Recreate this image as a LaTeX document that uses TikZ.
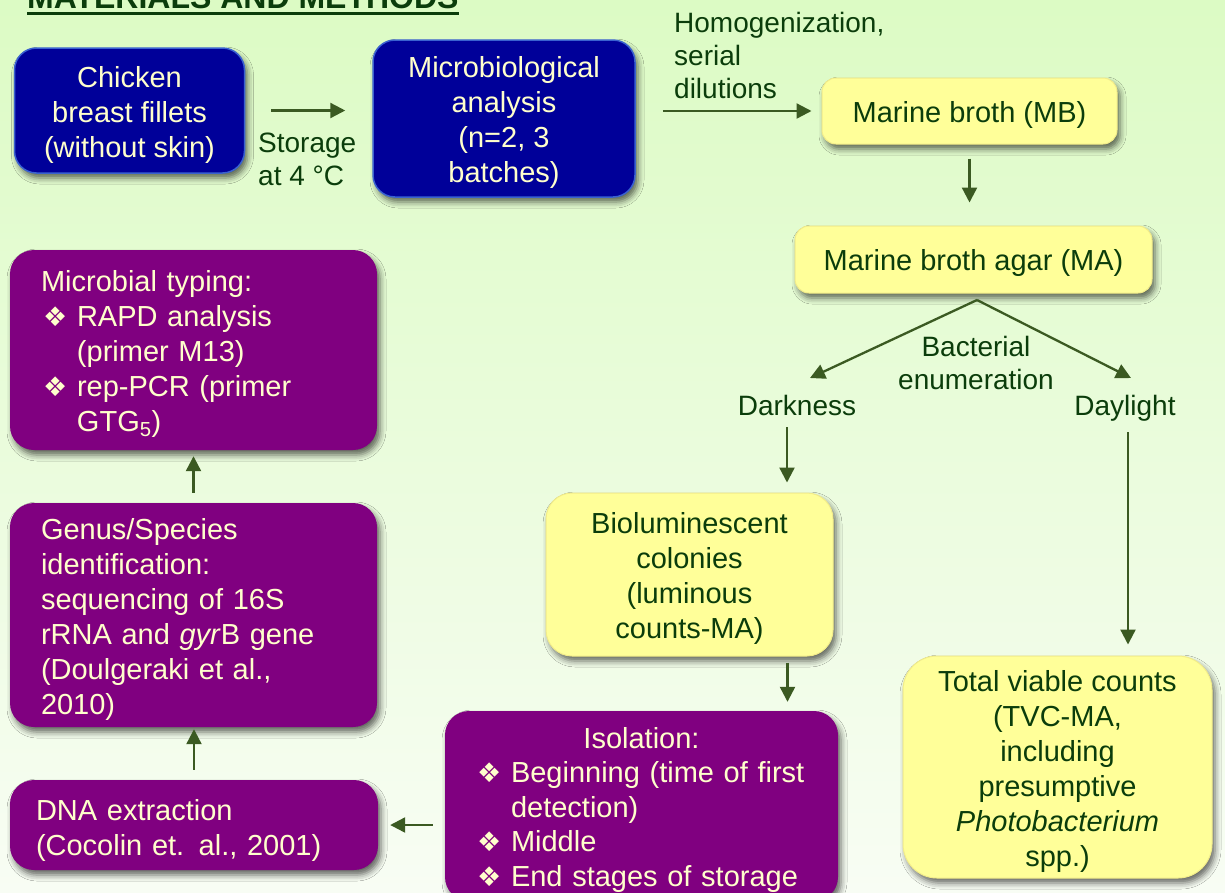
\documentclass[tikz,border=0pt]{standalone}
\usepackage{fontspec}
\setmainfont{Liberation Sans}
\newfontfamily\symf{DejaVu Sans}
\usetikzlibrary{arrows.meta,shadows.blur,calc}
\definecolor{bgtop}{HTML}{DCFBC4}
\definecolor{bgbot}{HTML}{F8FDF4}
\definecolor{tgreen}{HTML}{0B3D0B}
\definecolor{agreen}{HTML}{3B5A22}
\definecolor{navyfill}{HTML}{000099}
\definecolor{navyedge}{HTML}{3A62D0}
\definecolor{purp}{HTML}{800080}
\definecolor{yel}{HTML}{FFFF99}
\definecolor{yeledge}{HTML}{F2EC8A}
\definecolor{cream}{HTML}{FFFFCC}
\newcommand{\bulx}[1]{\makebox[#1][l]{\symf\fontsize{27}{27}\selectfont ❖}}
\newcommand{\fs}{\rule{0pt}{29pt}}
\tikzset{
  bigfont/.style={font=\fontsize{29}{35}\selectfont},
  lblfont/.style={font=\fontsize{28}{33}\selectfont},
  shad/.style={blur shadow={shadow xshift=3pt, shadow yshift=-5pt, shadow blur radius=6pt, shadow opacity=60}},
  navybox/.style={shad, bigfont, fill=navyfill, draw=navyedge, line width=1.5pt, text=cream, rounded corners=22pt, align=center, inner sep=0pt},
  purpbox/.style={shad, bigfont, fill=purp, text=cream, rounded corners=24pt, align=left, inner ysep=0pt},
  yelbox/.style={shad, bigfont, fill=yel, draw=yeledge, line width=1pt, text=tgreen, align=center, inner sep=0pt},
  lbl/.style={lblfont, text=tgreen, inner sep=0pt},
  arr/.style={draw=agreen, line width=2.3pt, -{Triangle[length=15pt,width=15pt]}}
}
\begin{document}
\begin{tikzpicture}[x=1pt,y=-1pt]
\useasboundingbox (0,0) rectangle (1225,892);
\shade[top color=bgtop, bottom color=bgbot] (0,0) rectangle (1225,892);

% title
\node[anchor=base west, inner sep=0pt, text=tgreen, font=\bfseries\fontsize{32}{36}\selectfont] (title) at (27,8) {MATERIALS AND METHODS};
\draw[tgreen, line width=3.2pt] ([yshift=-5.5pt]title.base west) -- ([yshift=-5.5pt]title.base east);

% top row
\node[navybox, minimum width=230pt, minimum height=125pt] (chicken) at (129.5,110.5)
  {\fs Chicken\\breast fillets\\(without skin)};
\node[navybox, minimum width=262pt, minimum height=157pt] (micro) at (504,118.5)
  {\fs Microbiological\\analysis\\(n=2, 3\\batches)};
\node[yelbox, rounded corners=14pt, minimum width=295pt, minimum height=66pt] (mb) at (969.5,111)
  {\fs Marine broth (MB)};
\node[yelbox, rounded corners=14pt, minimum width=357pt, minimum height=67pt] (ma) at (973.5,259.5)
  {\fs Marine broth agar (MA)};

\node[lbl, anchor=north west, align=left] (storage) at (258,133) {Storage\\at 4 °C};
\node[lbl, anchor=north west, align=left] (homog) at (674,12.5) {Homogenization,\\serial\\dilutions};

\draw[arr, shorten <=26pt, shorten >=27pt] (chicken.east) -- (chicken.east -| micro.west);
\draw[arr, shorten <=27pt, shorten >=10pt] (mb.west -| micro.east) -- (mb.west);
\draw[arr, shorten <=14pt, shorten >=23pt] (mb.south) -- (mb.south |- ma.north);

% branching
\coordinate (apex) at (977,300);
\coordinate (dktip) at (810,378);
\coordinate (dltip) at (1131,378);
\draw[arr] (apex) -- (dktip);
\draw[arr] (apex) -- (dltip);
\node[lbl, anchor=north, align=center] (bact) at (976,336.5) {Bacterial\\enumeration};
\node[lbl, anchor=base] (dark) at (797,415) {Darkness};
\node[lbl, anchor=base] (day) at (1125,415) {Daylight};

% right column
\node[yelbox, rounded corners=26pt, minimum width=287pt, minimum height=163pt] (bio) at (689.5,574.5)
  {\fs Bioluminescent\\colonies\\(luminous\\counts-MA)};
\node[yelbox, rounded corners=34pt, minimum width=309pt, minimum height=222pt] (tvc) at (1057.5,767)
  {\fs Total viable counts\\(TVC-MA,\\including\\presumptive\\\textit{Photobacterium}\\spp.)};

\draw[arr, shorten <=12pt, shorten >=10pt] ([xshift=-10pt]dark.base) -- ([xshift=-10pt]dark.base |- bio.north);
\draw[arr, shorten <=11pt, shorten >=11pt] ([xshift=3pt]day.south) -- ([xshift=3pt]day.south |- tvc.north);

% isolation
\node[purpbox, font=\fontsize{29}{34.5}\selectfont, inner xsep=32pt, text width=329pt, minimum height=190pt] (iso) at (641.5,806)
  {\rule{0pt}{28pt}\makebox[329pt]{Isolation:}\\
   \bulx{34pt}Beginning (time of first\\
   \hspace*{34pt}detection)\\
   \bulx{34pt}Middle\\
   \bulx{34pt}End stages of storage};
\draw[arr, shorten <=6pt, shorten >=9pt] ([xshift=-46pt]bio.south east) -- ([xshift=-46pt]bio.south east |- iso.north);

% left column
\node[purpbox, inner xsep=26pt, text width=316pt, minimum height=90pt] (dna) at (194,825)
  {\rule{0pt}{32pt}DNA extraction\\(Cocolin et. al., 2001)};
\node[purpbox, inner xsep=31pt, text width=305pt, minimum height=224pt] (genus) at (193.5,615)
  {\fs Genus/Species\\identification:\\sequencing of 16S\\rRNA and \textit{gyr}B gene\\(Doulgeraki et al.,\\2010)};
\node[purpbox, inner xsep=31pt, text width=305pt, minimum height=200pt] (typing) at (193.5,350)
  {\fs Microbial typing:\\
   \hspace*{2pt}\bulx{34pt}RAPD analysis\\
   \hspace*{36pt}(primer M13)\\
   \hspace*{2pt}\bulx{34pt}rep-PCR (primer\\
   \hspace*{36pt}GTG\textsubscript{5})};

\draw[arr, shorten <=12pt, shorten >=12pt] (iso.west |- dna.east) -- (dna.east);
\draw[arr, shorten <=10pt, shorten >=2pt] (dna.north) -- (dna.north |- genus.south);
\draw[arr, shorten <=10pt, shorten >=6pt] (genus.north) -- (genus.north |- typing.south);
\end{tikzpicture}
\end{document}
